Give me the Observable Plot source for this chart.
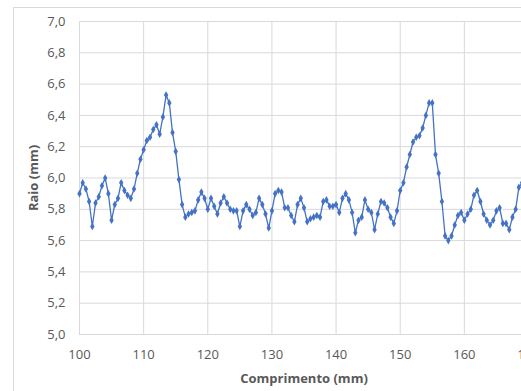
<!DOCTYPE html>
<html>
<head>
<meta charset="utf-8">
<script src="https://cdn.jsdelivr.net/npm/d3@7"></script>
<script src="https://cdn.jsdelivr.net/npm/@observablehq/plot@0.6"></script>
<style>
  html, body { margin: 0; padding: 0; background: #fff; overflow: hidden; width: 521px; height: 391px; }
  #wrap { position: relative; width: 521px; height: 391px; overflow: hidden; }
  #border { position: absolute; left: 13px; top: 7px; width: 700px; height: 600px; border: 1px solid #d9d9d9; pointer-events: none; }
</style>
</head>
<body>
<div id="wrap"><div id="border"></div></div>
<script>
const comprimento = [
  100, 100.5, 101, 101.5, 102, 102.5, 103, 103.5, 104, 104.5,
  105, 105.5, 106, 106.5, 107, 107.5, 108, 108.5, 109, 109.5,
  110, 110.5, 111, 111.5, 112, 112.5, 113, 113.5, 114, 114.5,
  115, 115.5, 116, 116.5, 117, 117.5, 118, 118.5, 119, 119.5,
  120, 120.5, 121, 121.5, 122, 122.5, 123, 123.5, 124, 124.5,
  125, 125.5, 126, 126.5, 127, 127.5, 128, 128.5, 129, 129.5,
  130, 130.5, 131, 131.5, 132, 132.5, 133, 133.5, 134, 134.5,
  135, 135.5, 136, 136.5, 137, 137.5, 138, 138.5, 139, 139.5,
  140, 140.5, 141, 141.5, 142, 142.5, 143, 143.5, 144, 144.5,
  145, 145.5, 146, 146.5, 147, 147.5, 148, 148.5, 149, 149.5,
  150, 150.5, 151, 151.5, 152, 152.5, 153, 153.5, 154, 154.5,
  155, 155.5, 156, 156.5, 157, 157.5, 158, 158.5, 159, 159.5,
  160, 160.5, 161, 161.5, 162, 162.5, 163, 163.5, 164, 164.5,
  165, 165.5, 166, 166.5, 167, 167.5, 168, 168.5, 169
];
const raio = [
  5.90, 5.97, 5.93, 5.85, 5.69, 5.84, 5.88, 5.95, 6.00, 5.90,
  5.73, 5.83, 5.87, 5.97, 5.92, 5.89, 5.87, 5.93, 6.03, 6.12,
  6.18, 6.24, 6.26, 6.31, 6.34, 6.28, 6.39, 6.53, 6.48, 6.29,
  6.17, 5.99, 5.83, 5.75, 5.77, 5.78, 5.79, 5.86, 5.91, 5.87,
  5.80, 5.87, 5.82, 5.77, 5.84, 5.88, 5.84, 5.80, 5.79, 5.79,
  5.69, 5.79, 5.83, 5.80, 5.76, 5.78, 5.87, 5.83, 5.77, 5.68,
  5.79, 5.90, 5.92, 5.91, 5.81, 5.81, 5.76, 5.72, 5.83, 5.87,
  5.81, 5.72, 5.74, 5.75, 5.76, 5.75, 5.85, 5.86, 5.82, 5.82,
  5.83, 5.78, 5.87, 5.90, 5.86, 5.78, 5.65, 5.73, 5.75, 5.86,
  5.80, 5.78, 5.67, 5.77, 5.85, 5.84, 5.81, 5.75, 5.71, 5.79,
  5.92, 5.97, 6.07, 6.15, 6.23, 6.26, 6.27, 6.32, 6.40, 6.48,
  6.48, 6.15, 6.03, 5.85, 5.63, 5.60, 5.63, 5.70, 5.76, 5.78,
  5.73, 5.77, 5.80, 5.89, 5.92, 5.85, 5.77, 5.73, 5.70, 5.73,
  5.79, 5.81, 5.71, 5.71, 5.67, 5.75, 5.80, 5.94, 5.97
];
const xTicks = [100, 110, 120, 130, 140, 150, 160, 170];
const yTicks = [5.0, 5.2, 5.4, 5.6, 5.8, 6.0, 6.2, 6.4, 6.6, 6.8, 7.0];
const xTitle = "Comprimento (mm)";
const yTitle = "Raio (mm)";

const data = comprimento.map((c, i) => ({c, r: raio[i]}));
const blue = "#4472C4";
const grid = "#d9d9d9";
const textColor = "#595959";

const chart = Plot.plot({
  width: 540,
  height: 391,
  marginLeft: 79,
  marginRight: 12,
  marginTop: 21,
  marginBottom: 57,
  x: {domain: [100, 170]},
  y: {domain: [5, 7]},
  style: {
    fontFamily: "'Open Sans', sans-serif",
    fontSize: "13px",
    color: textColor,
    background: "transparent",
    maxWidth: "none",
    overflow: "visible"
  },
  marks: [
    Plot.ruleY(yTicks, {stroke: grid, strokeOpacity: 1, strokeWidth: 1}),
    Plot.ruleX(xTicks, {stroke: grid, strokeOpacity: 1, strokeWidth: 1}),
    Plot.axisY(yTicks, {tickSize: 0, tickPadding: 14, tickFormat: d => d.toFixed(1).replace(".", ","), label: null, fill: textColor}),
    Plot.axisX(xTicks, {tickSize: 0, tickPadding: 15, tickFormat: d => String(d), label: null, fill: textColor}),
    Plot.line(data, {x: "c", y: "r", stroke: blue, strokeWidth: 1.3}),
    Plot.dot(data, {x: "c", y: "r", symbol: "diamond", r: 2.3, fill: blue, stroke: "none"}),
    Plot.text([yTitle], {frameAnchor: "left", dx: -46, rotate: -90, text: d => d, fontWeight: "bold", fontSize: 13, fill: textColor, textAnchor: "middle", lineAnchor: "middle"}),
    Plot.text([xTitle], {frameAnchor: "bottom", dy: 44, text: d => d, fontWeight: "bold", fontSize: 13, fill: textColor, textAnchor: "middle", lineAnchor: "middle"})
  ]
});
const wrap = document.getElementById("wrap");
wrap.insertBefore(chart, wrap.firstChild);
</script>
</body>
</html>
